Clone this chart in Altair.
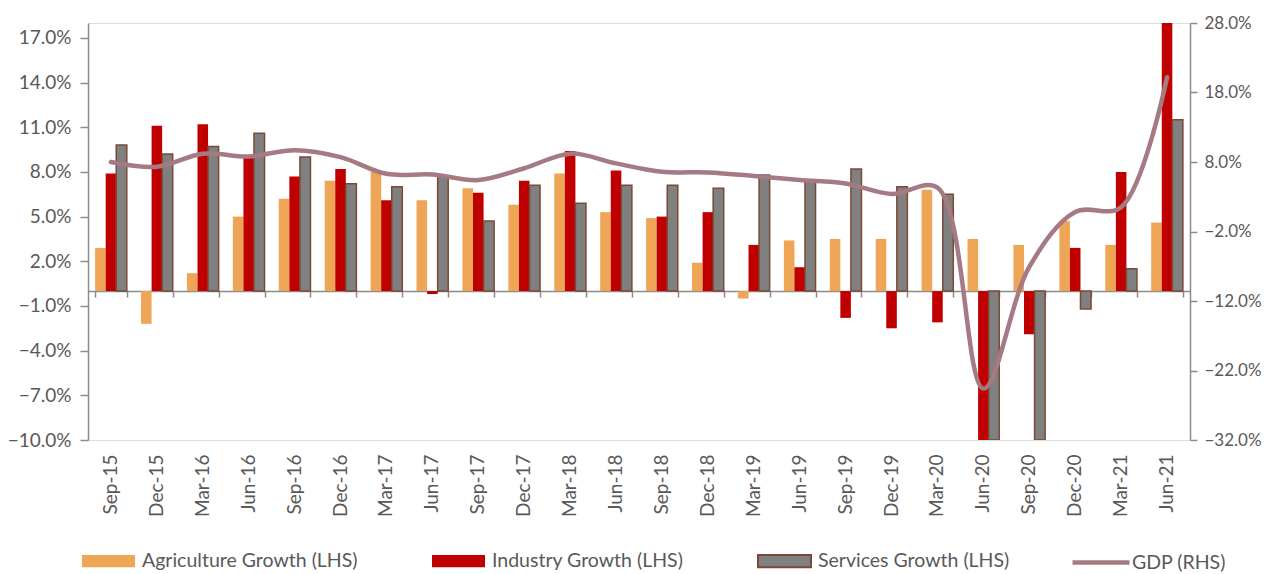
import altair as alt
import pandas as pd

quarters = ["Sep-15", "Dec-15", "Mar-16", "Jun-16", "Sep-16", "Dec-16", "Mar-17", "Jun-17",
            "Sep-17", "Dec-17", "Mar-18", "Jun-18", "Sep-18", "Dec-18", "Mar-19", "Jun-19",
            "Sep-19", "Dec-19", "Mar-20", "Jun-20", "Sep-20", "Dec-20", "Mar-21", "Jun-21"]
agriculture = [2.9, -2.2, 1.2, 5.0, 6.2, 7.4, 8.0, 6.1, 6.9, 5.8, 7.9, 5.3,
               4.9, 1.9, -0.5, 3.4, 3.5, 3.5, 6.8, 3.5, 3.1, 4.7, 3.1, 4.6]
industry = [7.9, 11.1, 11.2, 9.0, 7.7, 8.2, 6.1, -0.2, 6.6, 7.4, 9.4, 8.1,
            5.0, 5.3, 3.1, 1.6, -1.8, -2.5, -2.1, -10.0, -2.9, 2.9, 8.0, 18.0]
services = [9.8, 9.2, 9.7, 10.6, 9.0, 7.2, 7.0, 7.7, 4.7, 7.1, 5.9, 7.1,
            7.1, 6.9, 7.8, 7.4, 8.2, 7.0, 6.5, -10.0, -10.0, -1.2, 1.5, 11.5]
gdp = [8.0, 7.3, 9.2, 8.8, 9.7, 8.7, 6.3, 6.2, 5.4, 7.1, 9.2, 7.8,
       6.6, 6.5, 6.0, 5.4, 4.9, 3.4, 4.3, -24.6, -7.1, 0.8, 1.5, 20.2]

bar_names = ["Agriculture Growth (LHS)", "Industry Growth (LHS)", "Services Growth (LHS)"]
bar_colors = ["#EFA556", "#C00000", "#808080"]
bar_borders = ["transparent", "transparent", "#7B4A34"]
gdp_name = "GDP (RHS)"
gdp_color = "#A67A82"
left_ticks = [-10, -7, -4, -1, 2, 5, 8, 11, 14, 17]
right_ticks = [-32, -22, -12, -2, 8, 18, 28]
left_domain = [-10, 18]
right_domain = [-32, 28]

W, H = 1102, 417
FONT = "Lato"
TXT = "#595959"
AX = "#8C8C8C"
AXIS_FS = 19
RIGHT_FS = 17
LEG_FS = 19.5
LEG_CY = 537  # legend row centre, relative to plot top

bars_df = pd.DataFrame({
    "quarter": quarters * 3,
    "series": [bar_names[0]] * 24 + [bar_names[1]] * 24 + [bar_names[2]] * 24,
    "value": agriculture + industry + services,
})
gdp_df = pd.DataFrame({"quarter": quarters, "series": gdp_name, "value": gdp})
zero_df = pd.DataFrame({"quarter": quarters})

xscale = alt.Scale(paddingInner=0.31, paddingOuter=0.155)
BAR_SYM = 2809  # 53 px wide swatch


def bar_legend(label_opacity, **kw):
    return alt.Legend(
        orient="none", legendX=-7, legendY=LEG_CY - BAR_SYM ** 0.5 / 2, direction="horizontal", title=None,
        symbolType="M-1,-0.23H1V0.23H-1Z", symbolSize=BAR_SYM, symbolStrokeWidth=2,
        labelOffset=6, columnPadding=70, labelFontSize=LEG_FS, labelColor=TXT, labelFont=FONT,
        padding=0, labelLimit=400, symbolOpacity=1, labelOpacity=label_opacity, **kw,
    )


zero_layer = alt.Chart(zero_df).mark_point(opacity=0).transform_calculate(zero="0").encode(
    x=alt.X("quarter:N", sort=quarters, scale=xscale,
            axis=alt.Axis(orient="bottom", offset=-H * (0 - left_domain[0]) / (left_domain[1] - left_domain[0]),
                          labels=False, title=None, domain=True, domainColor=AX, domainWidth=1.5,
                          ticks=True, tickBand="extent", tickSize=6, tickColor=AX, tickWidth=1.5)),
    y=alt.Y("zero:Q", scale=alt.Scale(domain=left_domain, nice=False, zero=False), axis=None),
)

bars = alt.Chart(bars_df).mark_bar(clip=True, strokeWidth=1.5).encode(
    x=alt.X("quarter:N", sort=quarters, scale=xscale,
            axis=alt.Axis(orient="bottom", title=None, domain=False, ticks=False, labelAngle=-90,
                          labelAlign="right", labelBaseline="middle", labelPadding=14,
                          labelFontSize=AXIS_FS, labelColor=TXT, labelFont=FONT)),
    xOffset=alt.XOffset("series:N", sort=bar_names, scale=alt.Scale(paddingInner=0, paddingOuter=0)),
    y=alt.Y("value:Q", scale=alt.Scale(domain=left_domain, nice=False, zero=False),
            axis=alt.Axis(orient="left", values=left_ticks, title=None, grid=False,
                          labelExpr="format(datum.value, '.1f') + '%'",
                          domainColor=AX, domainWidth=1.5, tickColor=AX, tickWidth=1.5, tickSize=8,
                          labelPadding=9, labelFontSize=AXIS_FS, labelColor=TXT, labelFont=FONT)),
    fill=alt.Fill("series:N", scale=alt.Scale(domain=bar_names, range=bar_colors),
                  legend=bar_legend(1, symbolStrokeColor="transparent")),
    stroke=alt.Stroke("series:N", scale=alt.Scale(domain=bar_names, range=bar_borders),
                      legend=bar_legend(0, symbolFillColor="transparent")),
)

LINE_SYM = 3249  # 57 px wide swatch
line = alt.Chart(gdp_df).mark_line(interpolate="catmull-rom", strokeWidth=4.5, strokeCap="round").encode(
    x=alt.X("quarter:N", sort=quarters, scale=xscale, axis=None),
    y=alt.Y("value:Q", scale=alt.Scale(domain=right_domain, nice=False, zero=False),
            axis=alt.Axis(orient="right", values=right_ticks, title=None, grid=False,
                          labelExpr="format(datum.value, '.1f') + '%'",
                          domainColor=AX, domainWidth=1.5, tickColor=AX, tickWidth=1.5, tickSize=7,
                          labelPadding=7, labelFontSize=RIGHT_FS, labelColor=TXT, labelFont=FONT)),
    stroke=alt.Stroke("series:N", scale=alt.Scale(domain=[gdp_name], range=[gdp_color]),
                      legend=alt.Legend(orient="none", legendX=982, legendY=LEG_CY - LINE_SYM ** 0.5 / 2,
                                        title=None, symbolType="stroke", symbolSize=LINE_SYM,
                                        symbolStrokeWidth=4.5, labelOffset=0, labelFontSize=LEG_FS,
                                        labelColor=TXT, labelFont=FONT, padding=0, labelLimit=300)),
)

chart = alt.layer(zero_layer, bars, line).resolve_scale(
    y="independent", stroke="independent"
).resolve_axis(
    x="independent", y="independent"
).properties(
    width=W, height=H,
    autosize=alt.AutoSizeParams(type="none"),
    padding={"left": 80, "top": 15, "right": 72, "bottom": 132},
).configure_view(stroke=None).configure(font=FONT)

chart.save("out.html", embed_options={"renderer": "svg", "actions": False})
